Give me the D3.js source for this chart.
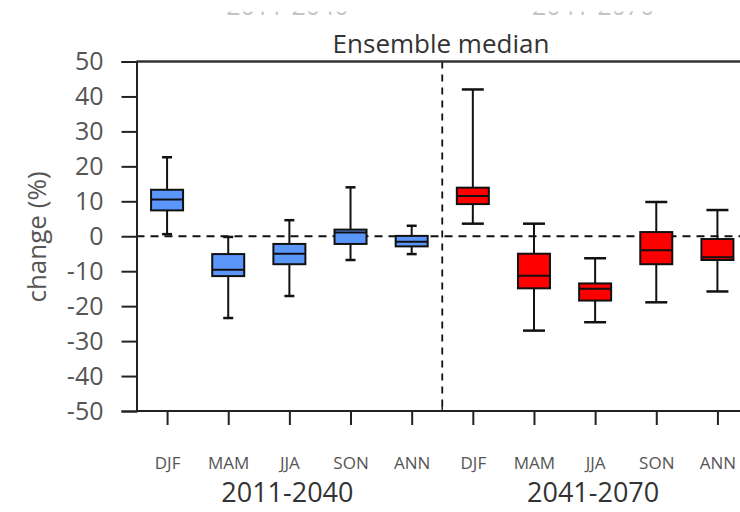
<!DOCTYPE html>
<html>
<head>
<meta charset="utf-8">
<script src="https://cdn.jsdelivr.net/npm/d3@7"></script>
<style>
  html, body { margin: 0; padding: 0; background: #fff; }
  svg { display: block; }
  text { font-family: "Open Sans", "Noto Sans", sans-serif; }
</style>
</head>
<body>
<svg id="chart" width="740" height="512"></svg>
<script>
// Seasons and periods
const seasons = ["DJF", "MAM", "JJA", "SON", "ANN"];
const periods = ["2011-2040", "2041-2070"];
const yTicks = [50, 40, 30, 20, 10, 0, -10, -20, -30, -40, -50];

// Box statistics per period, one value per season (change in %)
const whiskerLow1  = [0.6, -23.4, -17.1, -6.8, -5.1];
const quart1_1     = [7.4, -11.4,  -8.0, -2.2, -2.9];
const median1      = [10.5, -9.6,  -5.0,  1.1, -1.6];
const quart3_1     = [13.3, -5.1,  -2.2,  1.9,  0.1];
const whiskerHigh1 = [22.6, -0.2,   4.6, 14.0,  3.0];

const whiskerLow2  = [3.6, -27.0, -24.6, -18.9, -15.8];
const quart1_2     = [9.2, -14.9, -18.4,  -8.0,  -6.8];
const median2      = [11.5, -11.3, -15.0, -4.0,  -6.0];
const quart3_2     = [13.9, -5.0, -13.5,   1.2,  -0.8];
const whiskerHigh2 = [42.0,  3.6,  -6.3,   9.8,   7.5];

const periodColors = ["#5b96fb", "#ff0000"];
const capWidths = [10, 22];

// Table of boxes built from the arrays above
const stats = [
  [whiskerLow1, quart1_1, median1, quart3_1, whiskerHigh1],
  [whiskerLow2, quart1_2, median2, quart3_2, whiskerHigh2]
];
const boxes = [];
periods.forEach((p, pi) => {
  seasons.forEach((s, si) => {
    const [lo, q1, md, q3, hi] = stats[pi];
    boxes.push({ period: pi, season: s, idx: pi * seasons.length + si,
      lo: lo[si], q1: q1[si], md: md[si], q3: q3[si], hi: hi[si] });
  });
});

const svg = d3.select("#chart");
const plotLeft = 136.5, plotRight = 748, plotTop = 61.5, plotBottom = 411;

const nSlots = periods.length * seasons.length;
const x = d3.scaleLinear().domain([-0.5, nSlots - 0.5]).range([plotLeft, plotRight]);
const y = d3.scaleLinear().domain([-50, 50]).range([plotBottom, plotTop]);
const groupCenter = pi =>
  (x(pi * seasons.length) + x(pi * seasons.length + seasons.length - 1)) / 2;

// Faint period labels at the very top; only their lower edge remains visible
periods.forEach((p, pi) => {
  svg.append("text").attr("x", groupCenter(pi) - 2).attr("y", 15)
    .attr("text-anchor", "middle").attr("font-size", 25)
    .attr("fill", "#c4c4c4").text(p);
});
svg.append("rect").attr("x", 0).attr("y", -5)
  .attr("width", 740).attr("height", 16.5).attr("fill", "#fff");

// Title
svg.append("text").attr("x", 441).attr("y", 52.5)
  .attr("text-anchor", "middle").attr("font-size", 26)
  .attr("fill", "#333").text("Ensemble median");

// Zero reference line
svg.append("line")
  .attr("x1", plotLeft).attr("x2", 740)
  .attr("y1", y(0)).attr("y2", y(0))
  .attr("stroke", "#111").attr("stroke-width", 2)
  .attr("stroke-dasharray", "8,6");

// Divider between periods
const divX = x(seasons.length - 0.5);
svg.append("line")
  .attr("x1", divX).attr("x2", divX)
  .attr("y1", plotTop).attr("y2", plotBottom)
  .attr("stroke", "#111").attr("stroke-width", 1.8)
  .attr("stroke-dasharray", "7,6");

// Frame (top and bottom borders)
svg.append("line").attr("x1", plotLeft).attr("x2", 740)
  .attr("y1", plotTop).attr("y2", plotTop)
  .attr("stroke", "#333").attr("stroke-width", 2.5);
svg.append("line").attr("x1", plotLeft).attr("x2", 740)
  .attr("y1", plotBottom).attr("y2", plotBottom)
  .attr("stroke", "#222").attr("stroke-width", 2);
// small tick at divider on bottom axis
svg.append("line")
  .attr("x1", divX).attr("x2", divX)
  .attr("y1", plotBottom).attr("y2", plotBottom - 5)
  .attr("stroke", "#222").attr("stroke-width", 1.5);

// Y axis (plain hyphen for negative numbers)
const yAxis = d3.axisLeft(y).tickValues(yTicks).tickSize(15).tickPadding(18)
  .tickFormat(d => String(d));
const yG = svg.append("g").attr("transform", `translate(${plotLeft},0)`).call(yAxis);
yG.select(".domain").attr("stroke", "#222").attr("stroke-width", 2);
yG.selectAll(".tick line").attr("stroke", "#222").attr("stroke-width", 2);
yG.selectAll(".tick text")
  .attr("font-size", 25).attr("fill", "#555")
  .attr("font-family", "'Open Sans', sans-serif");

// Y axis title
svg.append("text")
  .attr("transform", "translate(46,237) rotate(-90)")
  .attr("text-anchor", "middle").attr("font-size", 26)
  .attr("fill", "#555").text("change (%)");

// X axis ticks and season labels
const xAxis = d3.axisBottom(x)
  .tickValues(d3.range(nSlots))
  .tickSize(14).tickPadding(32)
  .tickFormat(i => seasons[i % seasons.length]);
const xG = svg.append("g").attr("transform", `translate(0,${plotBottom})`).call(xAxis);
xG.select(".domain").remove();
xG.selectAll(".tick line").attr("stroke", "#222").attr("stroke-width", 2);
xG.selectAll(".tick text")
  .attr("font-size", 17).attr("fill", "#555")
  .attr("font-family", "'Open Sans', sans-serif");

// Period labels
periods.forEach((p, pi) => {
  svg.append("text").attr("x", groupCenter(pi) - 2).attr("y", 502)
    .attr("text-anchor", "middle").attr("font-size", 27)
    .attr("fill", "#333").text(p);
});

// Box plots
const boxW = 32;
const g = svg.append("g");
const bx = g.selectAll("g.box").data(boxes).join("g").attr("class", "box");

bx.append("line") // whisker
  .attr("x1", d => x(d.idx)).attr("x2", d => x(d.idx))
  .attr("y1", d => y(d.hi)).attr("y2", d => y(d.lo))
  .attr("stroke", "#111").attr("stroke-width", 2);
bx.append("line") // upper cap
  .attr("x1", d => x(d.idx) - capWidths[d.period] / 2)
  .attr("x2", d => x(d.idx) + capWidths[d.period] / 2)
  .attr("y1", d => y(d.hi)).attr("y2", d => y(d.hi))
  .attr("stroke", "#111").attr("stroke-width", 2.5);
bx.append("line") // lower cap
  .attr("x1", d => x(d.idx) - capWidths[d.period] / 2)
  .attr("x2", d => x(d.idx) + capWidths[d.period] / 2)
  .attr("y1", d => y(d.lo)).attr("y2", d => y(d.lo))
  .attr("stroke", "#111").attr("stroke-width", 2.5);
bx.append("rect")
  .attr("x", d => x(d.idx) - boxW / 2).attr("width", boxW)
  .attr("y", d => y(d.q3)).attr("height", d => y(d.q1) - y(d.q3))
  .attr("fill", d => periodColors[d.period])
  .attr("stroke", "#111").attr("stroke-width", 2);
bx.append("line") // median
  .attr("x1", d => x(d.idx) - boxW / 2).attr("x2", d => x(d.idx) + boxW / 2)
  .attr("y1", d => y(d.md)).attr("y2", d => y(d.md))
  .attr("stroke", "#111").attr("stroke-width", 2);
</script>
</body>
</html>
